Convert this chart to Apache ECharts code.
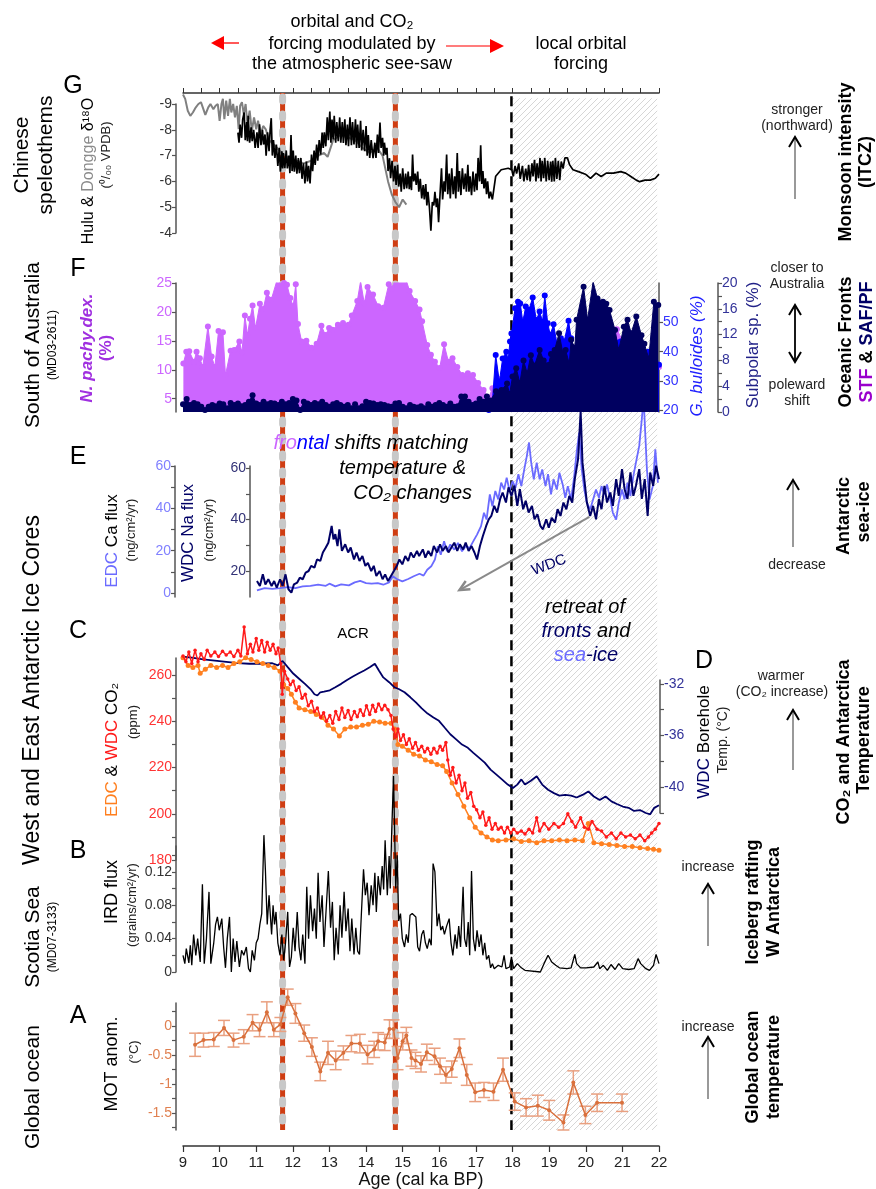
<!DOCTYPE html>
<html><head><meta charset="utf-8">
<script src="https://cdn.jsdelivr.net/npm/echarts@6/dist/echarts.min.js"></script>
<style>html,body{margin:0;padding:0;background:#fff}#c{width:876px;height:1189px}</style>
</head><body><div id="c"></div>
<script>
const FONT = '"Liberation Sans", Arial, Helvetica, sans-serif';
// ---------- x axis ----------
const X_LABELS = [9,10,11,12,13,14,15,16,17,18,19,20,21,22];
const TOP_TICKS = [9,9.5,10,10.5,11,11.5,12,12.5,13,13.5,14,14.5,15,15.5,16,16.5,17,17.5,18,18.5,19,19.5,20,20.5,21,21.5,22];
const EVENT_LINES = [11.72, 14.8];
const BOUNDARY = 17.97;
const HATCH = [17.97, 21.95];
// ---------- G: speleothems d18O ----------
const G_LABELS = [-9,-8,-7,-6,-5,-4];
const DONGGE = [[9.00,-9.37],[9.06,-9.20],[9.13,-8.74],[9.20,-8.54],[9.27,-8.67],[9.35,-8.87],[9.42,-9.00],[9.49,-9.07],[9.54,-8.87],[9.61,-8.58],[9.69,-8.87],[9.75,-9.00],[9.83,-8.80],[9.89,-8.93],[9.95,-9.00],[10.00,-8.35],[10.05,-9.00],[10.09,-9.20],[10.13,-8.41],[10.18,-9.13],[10.23,-8.54],[10.28,-9.20],[10.32,-8.67],[10.37,-9.00],[10.42,-8.48],[10.47,-8.93],[10.52,-8.02],[10.56,-8.93],[10.61,-9.07],[10.66,-8.61],[10.71,-9.00],[10.76,-8.21],[10.82,-8.74],[10.88,-7.95],[10.94,-8.48],[11.00,-8.02],[11.05,-8.35],[11.12,-7.82],[11.19,-8.15],[11.26,-8.02],[11.35,-7.60],[11.50,-7.40],[11.70,-7.10],[11.90,-6.90],[12.10,-6.80],[12.30,-6.70],[12.50,-6.80],[12.70,-7.00],[12.85,-7.10],[12.95,-6.95],[13.10,-7.60],[13.30,-7.80],[13.50,-7.70],[13.70,-7.60],[13.90,-7.30],[14.10,-7.10],[14.30,-7.30],[14.45,-7.00],[14.60,-6.00],[14.70,-5.50],[14.80,-5.20],[14.90,-5.00],[15.00,-5.30],[15.10,-5.10]];
const HULU = [
[10.50,-7.89],[10.53,-7.50],[10.56,-8.20],[10.60,-7.69],[10.63,-8.40],[10.67,-8.67],[10.70,-7.60],[10.74,-8.30],[10.76,-7.56],[10.78,-8.54],
[10.82,-7.50],[10.86,-8.10],[10.89,-7.56],[10.93,-8.00],[10.97,-7.30],[11.02,-7.90],[11.05,-7.30],[11.09,-8.21],[11.13,-7.40],[11.17,-8.00],
[11.20,-7.43],[11.24,-7.82],[11.27,-7.00],[11.31,-7.90],[11.35,-7.17],[11.38,-8.00],[11.41,-8.45],[11.44,-7.00],[11.47,-7.60],[11.51,-6.91],
[11.55,-7.43],[11.59,-6.60],[11.63,-7.30],[11.66,-6.38],[11.70,-7.17],[11.72,-6.50],[11.74,-7.10],[11.78,-6.51],[11.82,-7.20],[11.85,-6.50],
[11.89,-7.00],[11.92,-6.32],[11.95,-7.80],[11.98,-6.40],[12.01,-7.20],[12.04,-6.38],[12.08,-7.00],[12.11,-6.30],[12.15,-6.90],[12.18,-6.32],
[12.22,-6.91],[12.25,-6.10],[12.29,-6.70],[12.33,-5.92],[12.37,-6.77],[12.40,-6.00],[12.43,-6.60],[12.47,-5.92],[12.51,-7.04],[12.54,-6.40],
[12.58,-7.20],[12.61,-6.64],[12.65,-7.43],[12.68,-6.80],[12.72,-7.60],[12.76,-7.04],[12.80,-7.89],[12.83,-7.30],[12.86,-7.90],[12.90,-7.36],
[12.94,-8.48],[12.97,-7.60],[13.01,-8.71],[13.04,-7.50],[13.07,-8.40],[13.10,-7.63],[13.13,-8.54],[13.17,-7.50],[13.20,-8.30],[13.24,-7.56],
[13.28,-8.48],[13.31,-7.50],[13.35,-8.30],[13.38,-7.49],[13.42,-8.41],[13.45,-7.40],[13.49,-8.20],[13.52,-7.36],[13.56,-8.48],[13.60,-7.40],
[13.63,-8.30],[13.67,-7.43],[13.71,-8.41],[13.74,-7.30],[13.77,-8.20],[13.81,-7.30],[13.85,-8.35],[13.88,-7.20],[13.92,-8.00],[13.96,-7.17],
[14.00,-8.15],[14.03,-7.00],[14.06,-7.80],[14.10,-6.91],[14.14,-7.60],[14.19,-6.90],[14.24,-7.50],[14.27,-6.91],[14.31,-7.82],[14.34,-7.10],
[14.38,-8.28],[14.41,-7.30],[14.45,-7.69],[14.48,-7.00],[14.50,-7.50],[14.54,-7.04],[14.57,-7.30],[14.60,-6.40],[14.64,-6.90],[14.67,-6.12],
[14.71,-6.80],[14.75,-6.00],[14.79,-6.60],[14.82,-5.86],[14.86,-6.64],[14.89,-5.80],[14.93,-6.30],[14.96,-5.60],[15.00,-6.51],[15.04,-5.70],
[15.08,-6.30],[15.11,-5.73],[15.15,-6.38],[15.18,-5.70],[15.21,-6.20],[15.24,-5.66],[15.27,-7.04],[15.30,-6.00],[15.34,-6.30],[15.37,-5.86],
[15.41,-6.38],[15.44,-5.60],[15.48,-6.10],[15.52,-5.34],[15.56,-5.86],[15.59,-5.30],[15.63,-5.90],[15.66,-5.07],[15.69,-5.60],[15.73,-5.00],
[15.77,-4.09],[15.81,-5.20],[15.85,-5.07],[15.88,-5.60],[15.92,-5.00],[15.95,-5.34],[15.98,-4.42],[16.02,-5.50],[16.06,-6.51],[16.09,-5.30],
[16.13,-6.00],[16.16,-5.60],[16.20,-7.04],[16.23,-5.50],[16.27,-6.30],[16.30,-5.34],[16.34,-6.51],[16.38,-5.50],[16.42,-6.20],[16.45,-5.34],
[16.49,-7.10],[16.52,-5.60],[16.55,-6.40],[16.59,-5.47],[16.63,-6.51],[16.67,-5.70],[16.71,-6.30],[16.74,-5.60],[16.78,-6.64],[16.81,-5.60],
[16.84,-6.20],[16.88,-5.47],[16.92,-6.38],[16.96,-5.60],[17.00,-6.30],[17.03,-5.66],[17.06,-6.91],[17.10,-6.00],[17.13,-7.40],[17.16,-5.90],
[17.19,-6.40],[17.22,-5.73],[17.26,-6.12],[17.29,-5.50],[17.32,-6.00],[17.36,-5.34],[17.40,-5.60],[17.45,-5.30],[17.54,-6.20],[17.69,-6.45],
[17.88,-6.51],[17.98,-6.45],[18.02,-6.20],[18.07,-6.60],[18.11,-6.30],[18.17,-6.70],[18.21,-6.10],[18.27,-6.60],[18.31,-6.00],[18.36,-6.50],
[18.40,-6.05],[18.44,-6.64],[18.48,-6.00],[18.53,-6.70],[18.56,-6.19],[18.60,-6.84],[18.64,-6.00],[18.67,-6.70],[18.71,-6.12],[18.75,-6.91],
[18.78,-6.00],[18.81,-6.80],[18.85,-6.12],[18.88,-6.91],[18.92,-6.00],[18.96,-6.80],[19.00,-6.05],[19.04,-6.77],[19.07,-5.99],[19.10,-6.80],
[19.14,-6.00],[19.17,-6.91],[19.21,-6.10],[19.25,-6.80],[19.29,-6.05],[19.33,-6.77],[19.38,-6.50],[19.43,-6.91],[19.50,-6.91],[19.56,-6.64],
[19.65,-6.45],[19.80,-6.38],[19.99,-6.28],[20.13,-6.12],[20.28,-6.32],[20.42,-6.19],[20.56,-6.32],[20.76,-6.32],[20.95,-6.38],[21.09,-6.32],
[21.23,-6.19],[21.38,-6.05],[21.47,-5.99],[21.62,-6.05],[21.76,-6.05],[21.90,-6.12],[22.00,-6.28]];
// ---------- F: MD03-2611 foraminifera ----------
const PACHY_LABELS = [5,10,15,20,25];
const BULL_LABELS = [20,30,40,50];
const SUBP_LABELS = [0,4,8,12,16,20];
const SUBP_TICKS = [0,2,4,6,8,10,12,14,16,18,20];
const PACHY = [[9.01,11.1],[9.09,13.1],[9.17,13.2],[9.30,11.4],[9.37,13.1],[9.46,12.0],[9.54,10.5],[9.68,17.5],[9.78,12.3],[9.87,10.5],[9.97,16.7],[10.09,16.5],[10.16,9.1],[10.30,13.3],[10.40,13.4],[10.54,14.9],[10.61,13.0],[10.69,19.4],[10.76,16.0],[10.83,18.8],[10.90,21.1],[10.98,17.2],[11.10,21.4],[11.19,20.5],[11.29,23.3],[11.41,22.1],[11.55,25.1],[11.69,27.1],[11.76,25.0],[11.84,24.7],[11.93,22.4],[12.01,21.0],[12.08,24.8],[12.14,17.9],[12.24,14.9],[12.37,15.0],[12.51,13.8],[12.65,14.5],[12.78,17.6],[12.89,16.0],[12.99,17.2],[13.08,16.9],[13.23,17.8],[13.37,18.1],[13.52,17.8],[13.61,19.4],[13.76,21.9],[13.85,25.3],[13.95,21.5],[14.04,24.3],[14.19,23.0],[14.33,21.0],[14.47,20.7],[14.62,24.8],[14.71,24.1],[14.81,25.9],[14.93,27.7],[15.05,26.4],[15.19,23.6],[15.34,21.9],[15.46,20.4],[15.53,18.4],[15.67,14.3],[15.77,12.6],[15.88,11.4],[16.01,10.3],[16.13,14.4],[16.25,11.4],[16.36,12.0],[16.49,10.5],[16.63,9.1],[16.78,9.4],[16.92,9.1],[17.06,7.7],[17.21,6.5],[17.35,5.1],[17.45,6.8],[17.59,8.5],[17.69,7.4],[17.88,9.1],[18.07,7.5],[18.45,9.0],[18.84,8.0],[19.17,10.0],[19.60,9.0],[20.18,11.0],[20.56,13.0],[20.85,17.0],[21.23,12.0],[21.62,10.0],[22.00,10.5]];
const BULL = [[17.35,20.0],[17.45,22.9],[17.54,38.9],[17.64,29.7],[17.73,37.7],[17.83,40.0],[17.88,37.2],[17.93,43.5],[17.97,46.3],[18.07,54.9],[18.15,57.2],[18.21,56.6],[18.28,50.3],[18.36,55.5],[18.45,54.4],[18.55,58.6],[18.65,50.9],[18.74,53.8],[18.82,50.3],[18.88,59.3],[18.96,49.8],[19.03,45.8],[19.12,49.4],[19.22,42.3],[19.32,44.6],[19.41,43.5],[19.53,50.6],[19.60,44.6],[19.70,40.0],[19.80,41.2],[19.99,36.6],[20.18,43.5],[20.37,41.2],[20.56,38.9],[20.75,44.6],[20.95,43.5],[21.14,41.2],[21.33,43.5],[21.52,41.2],[21.71,40.0],[21.90,36.6],[22.00,35.5]];
const SUBP = [[9.0,1.2],[9.1,2.0],[9.2,1.1],[9.3,1.4],[9.4,1.2],[9.5,0.8],[9.6,0.3],[9.7,0.8],[9.8,1.1],[9.9,0.9],[10.0,1.3],[10.1,1.2],[10.2,0.6],[10.3,1.4],[10.4,1.1],[10.5,1.3],[10.6,0.9],[10.7,1.1],[10.8,1.6],[10.9,2.6],[11.0,1.3],[11.1,1.1],[11.2,1.6],[11.3,1.2],[11.4,1.4],[11.5,1.3],[11.6,1.1],[11.7,1.6],[11.8,1.2],[11.9,1.4],[12.0,2.0],[12.1,1.8],[12.2,0.3],[12.3,1.6],[12.4,1.3],[12.5,1.1],[12.6,1.4],[12.7,1.2],[12.8,1.6],[12.9,1.1],[13.0,0.8],[13.1,1.2],[13.2,1.4],[13.3,1.1],[13.4,0.8],[13.5,1.1],[13.6,0.6],[13.7,1.2],[13.8,0.6],[13.9,0.9],[14.0,1.6],[14.1,1.4],[14.2,1.3],[14.3,1.1],[14.4,1.2],[14.5,1.1],[14.6,0.9],[14.7,0.8],[14.8,1.3],[14.9,1.4],[15.0,0.8],[15.1,0.6],[15.2,1.1],[15.3,0.8],[15.4,0.7],[15.5,0.9],[15.6,0.6],[15.7,1.2],[15.8,0.8],[15.9,1.1],[16.0,1.4],[16.1,1.1],[16.2,0.8],[16.3,1.3],[16.4,0.8],[16.5,0.9],[16.6,2.4],[16.7,2.4],[16.8,1.6],[16.9,1.1],[17.0,1.3],[17.1,2.0],[17.2,1.6],[17.3,2.4],[17.4,1.8],[17.55,3.2],[17.7,3.4],[17.85,4.4],[17.92,2.8],[18.0,5.5],[18.1,6.8],[18.2,4.5],[18.3,8.0],[18.4,6.0],[18.5,8.8],[18.6,7.2],[18.74,9.6],[18.85,8.0],[18.98,7.3],[19.05,9.0],[19.15,9.6],[19.27,12.2],[19.38,9.0],[19.45,9.6],[19.55,7.5],[19.6,11.2],[19.7,10.0],[19.75,14.3],[19.94,19.4],[20.05,14.3],[20.2,20.2],[20.32,17.6],[20.47,17.1],[20.56,16.8],[20.65,15.8],[20.8,12.7],[20.9,9.6],[21.04,13.2],[21.14,14.3],[21.24,12.2],[21.38,14.8],[21.52,11.9],[21.6,10.6],[21.72,8.3],[21.86,17.1],[21.98,16.6]];
// ---------- E: ice core dust / sea salt ----------
const CA_LABELS = [0,20,40,60];
const CA_TICKS = [0,10,20,30,40,50,60];
const NA_LABELS = [20,40,60];
const NA_TICKS = [20,30,40,50,60];
const CA = [[11.02,1.2],[11.23,2.3],[11.44,1.9],[11.65,2.3],[11.86,2.8],[12.07,2.3],[12.27,3.1],[12.48,3.4],[12.69,3.9],[12.90,3.4],[13.00,4.4],[13.16,3.1],[13.32,4.1],[13.53,3.6],[13.69,5.0],[13.84,5.7],[14.00,4.7],[14.15,4.4],[14.32,4.7],[14.47,3.9],[14.63,5.0],[14.73,7.9],[14.84,6.6],[14.99,5.5],[15.15,6.6],[15.30,7.9],[15.46,9.1],[15.57,8.2],[15.67,11.0],[15.78,12.6],[15.88,15.8],[15.96,22.1],[16.04,18.1],[16.13,24.5],[16.21,19.7],[16.30,22.9],[16.41,20.5],[16.51,23.7],[16.62,19.7],[16.72,22.1],[16.83,21.3],[16.93,24.5],[17.03,27.6],[17.14,31.6],[17.22,37.9],[17.29,34.7],[17.38,46.6],[17.45,41.0],[17.53,48.2],[17.61,44.2],[17.69,52.1],[17.77,48.9],[17.84,54.5],[17.92,48.2],[18.00,52.9],[18.08,49.7],[18.16,56.1],[18.24,50.5],[18.32,58.4],[18.39,64.7],[18.45,71.1],[18.51,61.6],[18.58,53.7],[18.66,61.6],[18.74,53.7],[18.81,58.4],[18.90,50.5],[18.97,56.1],[19.05,46.6],[19.12,53.7],[19.21,48.9],[19.28,56.8],[19.37,51.3],[19.44,45.0],[19.51,50.5],[19.60,44.2],[19.68,54.5],[19.75,66.3],[19.82,75.8],[19.89,58.4],[19.96,48.9],[20.03,42.6],[20.12,39.5],[20.20,44.2],[20.28,48.9],[20.36,45.0],[20.43,50.5],[20.51,46.6],[20.58,51.3],[20.67,44.2],[20.74,37.9],[20.83,34.7],[20.90,42.6],[20.99,48.9],[21.06,44.2],[21.14,52.1],[21.22,45.8],[21.30,55.3],[21.37,61.6],[21.46,69.5],[21.53,82.0],[21.58,92.0],[21.67,58.4],[21.74,44.2],[21.83,50.5],[21.90,67.9],[21.97,52.1]];
const NA = [[11.02,16.1],[11.10,14.2],[11.18,18.7],[11.25,14.8],[11.33,16.8],[11.42,14.2],[11.49,16.1],[11.56,13.5],[11.65,16.8],[11.72,14.2],[11.80,18.7],[11.88,12.9],[11.96,11.6],[12.03,14.8],[12.12,15.5],[12.19,17.4],[12.27,16.8],[12.35,19.4],[12.43,20.0],[12.50,22.0],[12.59,21.3],[12.66,24.5],[12.75,23.9],[12.82,27.2],[12.90,29.1],[12.97,31.0],[13.06,37.5],[13.11,32.3],[13.16,34.3],[13.22,29.7],[13.27,36.2],[13.34,27.8],[13.43,30.4],[13.51,27.2],[13.58,29.1],[13.67,24.5],[13.74,27.2],[13.82,23.9],[13.90,25.8],[13.98,22.0],[14.05,23.2],[14.14,20.0],[14.21,22.0],[14.28,18.1],[14.37,20.0],[14.45,16.8],[14.52,18.7],[14.60,16.1],[14.68,18.1],[14.76,20.0],[14.84,22.0],[14.91,24.5],[14.99,22.6],[15.07,25.8],[15.15,23.9],[15.22,27.2],[15.30,25.2],[15.39,27.8],[15.45,25.8],[15.55,28.4],[15.62,25.2],[15.70,27.8],[15.78,25.8],[15.85,29.7],[15.94,27.2],[16.02,30.4],[16.09,27.8],[16.18,29.7],[16.25,27.2],[16.33,29.1],[16.41,31.0],[16.49,27.8],[16.56,30.4],[16.65,28.4],[16.72,31.0],[16.80,27.8],[16.88,29.7],[16.96,27.2],[17.03,24.5],[17.11,29.7],[17.19,33.6],[17.28,37.5],[17.35,40.1],[17.42,41.4],[17.50,45.3],[17.58,42.7],[17.66,47.9],[17.73,50.5],[17.82,46.6],[17.89,52.5],[17.97,49.2],[18.05,53.2],[18.13,45.3],[18.20,51.8],[18.29,44.0],[18.36,47.3],[18.44,42.7],[18.53,45.3],[18.60,40.1],[18.68,42.1],[18.76,37.5],[18.83,36.2],[18.92,40.1],[18.99,36.8],[19.07,40.7],[19.16,38.8],[19.23,44.0],[19.31,41.4],[19.39,46.6],[19.47,44.0],[19.55,49.2],[19.63,46.6],[19.70,55.7],[19.79,63.5],[19.86,82.0],[19.91,62.2],[19.96,55.7],[20.03,46.6],[20.12,41.4],[20.20,45.3],[20.28,40.1],[20.36,48.0],[20.43,44.0],[20.51,53.1],[20.58,46.6],[20.67,50.5],[20.74,45.3],[20.83,55.7],[20.90,49.2],[20.99,59.6],[21.06,51.8],[21.14,48.0],[21.22,58.3],[21.30,49.2],[21.37,53.1],[21.46,59.6],[21.53,48.0],[21.61,55.7],[21.69,41.4],[21.76,58.3],[21.84,53.1],[21.92,60.9],[22.00,55.7]];
// ---------- C / D: CO2 and borehole temperature ----------
const CO2_LABELS = [180,200,220,240,260];
const CO2_TICKS = [180,190,200,210,220,230,240,250,260];
const BORE_LABELS = [-32,-36,-40];
const BORE_TICKS = [-32,-34,-36,-38,-40,-42];
const WDC_CO2 = [[9.00,268.3],[9.08,265.8],[9.16,270.0],[9.24,265.0],[9.33,270.8],[9.41,265.8],[9.49,269.2],[9.58,266.7],[9.66,270.8],[9.76,268.3],[9.87,270.0],[9.97,268.0],[10.08,270.3],[10.18,268.7],[10.29,270.0],[10.39,268.0],[10.50,270.8],[10.58,268.3],[10.67,280.8],[10.76,269.2],[10.84,273.3],[10.91,270.0],[11.00,275.8],[11.07,270.8],[11.15,275.0],[11.23,270.0],[11.30,274.2],[11.38,270.8],[11.46,273.3],[11.54,269.2],[11.60,271.7],[11.67,265.0],[11.71,251.7],[11.77,261.7],[11.86,258.3],[11.93,255.8],[12.01,257.5],[12.09,253.3],[12.17,255.0],[12.25,250.0],[12.34,251.7],[12.42,246.7],[12.51,248.7],[12.59,244.2],[12.67,245.8],[12.76,241.7],[12.84,243.7],[12.92,240.0],[13.01,242.5],[13.09,239.2],[13.17,244.2],[13.26,240.8],[13.34,245.8],[13.42,241.7],[13.51,244.7],[13.59,240.8],[13.68,244.2],[13.76,242.0],[13.84,245.0],[13.93,242.5],[14.01,246.7],[14.10,243.0],[14.18,247.0],[14.26,244.2],[14.34,247.5],[14.43,245.0],[14.51,247.0],[14.60,245.0],[14.68,242.5],[14.74,236.7],[14.81,233.3],[14.87,236.7],[14.94,231.7],[15.02,234.2],[15.10,230.0],[15.18,232.5],[15.27,228.3],[15.35,230.8],[15.43,227.5],[15.52,229.2],[15.60,226.7],[15.68,228.3],[15.77,225.8],[15.85,228.3],[15.94,226.3],[16.02,229.2],[16.09,227.5],[16.18,230.8],[16.23,223.3],[16.30,216.7],[16.37,220.0],[16.46,213.3],[16.54,216.7],[16.62,210.0],[16.70,213.3],[16.77,206.7],[16.86,209.2],[16.94,203.3],[17.02,201.7],[17.11,198.3],[17.19,200.8],[17.27,195.0],[17.36,198.3],[17.44,193.3],[17.53,195.8],[17.61,193.3],[17.69,194.2],[17.78,191.7],[17.86,194.2],[17.95,191.7],[18.03,193.3],[18.13,191.7],[18.24,192.5],[18.34,191.3],[18.45,193.3],[18.55,191.7],[18.66,198.3],[18.74,192.5],[18.86,195.8],[18.99,193.3],[19.13,195.8],[19.26,194.2],[19.39,195.8],[19.51,200.0],[19.62,196.7],[19.72,194.2],[19.86,198.3],[19.96,194.2],[20.07,193.3],[20.17,196.7],[20.31,193.3],[20.43,192.5],[20.56,190.0],[20.70,191.7],[20.83,189.2],[20.96,191.7],[21.09,190.0],[21.22,190.8],[21.35,189.2],[21.48,190.8],[21.61,188.3],[21.71,190.0],[21.80,191.7],[21.90,193.3],[22.00,195.8]];
const EDC_CO2 = [[9.00,267.5],[9.14,264.2],[9.27,263.3],[9.41,264.2],[9.47,260.8],[9.61,262.5],[9.76,264.2],[9.92,263.3],[10.08,264.2],[10.23,263.3],[10.39,265.0],[10.55,265.8],[10.71,267.5],[10.86,266.7],[11.02,265.8],[11.18,265.0],[11.33,264.2],[11.49,263.3],[11.65,261.7],[11.75,255.8],[11.86,254.2],[11.96,251.7],[12.07,248.3],[12.17,245.8],[12.33,245.0],[12.49,244.2],[12.64,243.0],[12.80,241.7],[12.96,238.3],[13.11,236.7],[13.27,233.7],[13.42,236.7],[13.58,237.5],[13.74,237.5],[13.90,238.3],[14.06,238.7],[14.21,240.0],[14.37,239.7],[14.52,239.2],[14.68,239.2],[14.78,236.7],[14.87,230.0],[14.99,229.2],[15.15,227.5],[15.30,225.8],[15.46,225.0],[15.62,223.3],[15.78,222.5],[15.94,221.3],[16.09,220.8],[16.20,218.3],[16.35,213.3],[16.51,208.3],[16.67,203.3],[16.83,198.3],[16.98,194.2],[17.14,191.7],[17.30,190.0],[17.45,188.7],[17.61,188.3],[17.82,188.7],[18.03,189.2],[18.24,188.0],[18.45,188.3],[18.66,187.5],[18.86,188.3],[19.07,188.3],[19.28,188.7],[19.49,188.3],[19.70,188.7],[19.91,188.3],[20.07,195.8],[20.22,187.5],[20.43,187.0],[20.64,186.7],[20.85,186.3],[21.06,185.8],[21.27,185.8],[21.48,185.3],[21.69,185.0],[21.85,184.7],[22.00,184.2]];
const BORE_T = [[9.00,-29.90],[9.24,-29.97],[9.55,-30.10],[9.87,-30.20],[10.18,-30.30],[10.50,-30.40],[10.81,-30.44],[11.12,-30.44],[11.44,-30.40],[11.59,-30.57],[11.72,-30.23],[11.86,-30.70],[12.01,-31.20],[12.17,-31.60],[12.33,-32.00],[12.48,-32.40],[12.59,-32.80],[12.67,-32.90],[12.75,-32.65],[12.85,-32.60],[13.01,-32.50],[13.16,-32.26],[13.32,-32.00],[13.48,-31.70],[13.64,-31.43],[13.79,-31.20],[13.95,-30.96],[14.11,-30.70],[14.24,-30.44],[14.35,-30.96],[14.47,-31.50],[14.63,-31.87],[14.77,-32.26],[14.89,-32.40],[15.05,-32.65],[15.21,-33.04],[15.36,-33.43],[15.52,-33.90],[15.68,-34.30],[15.84,-34.60],[15.99,-34.86],[16.15,-35.40],[16.30,-35.90],[16.46,-36.30],[16.62,-36.70],[16.78,-36.95],[16.93,-37.34],[17.09,-37.73],[17.24,-38.10],[17.40,-38.64],[17.56,-39.03],[17.71,-39.40],[17.87,-39.80],[18.01,-40.07],[18.13,-39.80],[18.24,-39.40],[18.34,-39.80],[18.50,-39.50],[18.66,-39.16],[18.81,-39.80],[18.97,-40.20],[19.13,-40.46],[19.28,-40.65],[19.44,-40.60],[19.60,-40.65],[19.75,-40.80],[19.91,-40.60],[20.07,-40.33],[20.22,-40.72],[20.38,-41.00],[20.54,-40.72],[20.70,-41.10],[20.85,-41.30],[21.01,-41.50],[21.17,-41.60],[21.32,-41.84],[21.48,-41.77],[21.64,-42.00],[21.76,-42.10],[21.87,-41.60],[22.00,-41.40]];
// ---------- B: IRD flux ----------
const IRD_LABELS = [0,0.04,0.08,0.12];
const IRD_TICKS = [0,0.02,0.04,0.06,0.08,0.1,0.12,0.14];
const IRD = [[9.00,0.020],[9.05,0.010],[9.09,0.028],[9.16,0.011],[9.20,0.032],[9.24,0.008],[9.29,0.045],[9.35,0.020],[9.40,0.040],[9.47,0.012],[9.53,0.105],[9.58,0.010],[9.64,0.040],[9.71,0.096],[9.76,0.010],[9.84,0.035],[9.89,0.057],[9.94,0.066],[9.99,0.050],[10.06,0.064],[10.11,0.030],[10.16,0.005],[10.21,0.040],[10.27,0.066],[10.32,0.000],[10.37,0.040],[10.42,0.012],[10.47,0.037],[10.54,0.006],[10.60,0.026],[10.66,0.020],[10.73,0.030],[10.79,0.004],[10.84,0.000],[10.89,0.026],[10.95,0.014],[11.00,0.035],[11.05,0.040],[11.10,0.057],[11.15,0.070],[11.21,0.164],[11.25,0.123],[11.30,0.057],[11.35,0.092],[11.42,0.045],[11.46,0.080],[11.50,0.057],[11.54,0.072],[11.59,0.035],[11.65,0.020],[11.70,0.045],[11.75,0.014],[11.80,0.035],[11.86,0.072],[11.91,0.006],[11.96,0.018],[12.01,0.053],[12.06,0.025],[12.12,0.072],[12.17,0.030],[12.22,0.014],[12.27,0.045],[12.33,0.010],[12.38,0.102],[12.43,0.040],[12.48,0.092],[12.54,0.049],[12.59,0.076],[12.64,0.040],[12.69,0.119],[12.74,0.060],[12.80,0.092],[12.85,0.030],[12.90,0.068],[12.97,0.121],[13.03,0.053],[13.08,0.084],[13.13,0.014],[13.18,0.053],[13.24,0.021],[13.29,0.080],[13.34,0.041],[13.40,0.096],[13.45,0.049],[13.51,0.076],[13.56,0.025],[13.61,0.064],[13.67,0.021],[13.72,0.053],[13.77,0.025],[13.82,0.021],[13.87,0.068],[13.93,0.123],[13.98,0.092],[14.03,0.107],[14.08,0.068],[14.14,0.104],[14.19,0.080],[14.24,0.119],[14.28,0.072],[14.33,0.115],[14.39,0.092],[14.44,0.127],[14.48,0.099],[14.52,0.158],[14.58,0.092],[14.63,0.139],[14.66,0.100],[14.70,0.168],[14.75,0.235],[14.81,0.100],[14.85,0.140],[14.89,0.061],[14.94,0.070],[14.99,0.040],[15.05,0.030],[15.10,0.045],[15.15,0.035],[15.20,0.068],[15.26,0.070],[15.31,0.070],[15.36,0.066],[15.41,0.030],[15.46,0.025],[15.52,0.045],[15.57,0.050],[15.62,0.035],[15.67,0.028],[15.73,0.040],[15.78,0.032],[15.83,0.130],[15.88,0.120],[15.94,0.055],[15.99,0.070],[16.04,0.050],[16.09,0.055],[16.14,0.045],[16.20,0.055],[16.27,0.064],[16.32,0.035],[16.37,0.020],[16.43,0.045],[16.48,0.028],[16.53,0.055],[16.58,0.030],[16.65,0.102],[16.69,0.040],[16.74,0.030],[16.79,0.060],[16.83,0.020],[16.88,0.121],[16.93,0.040],[16.98,0.025],[17.03,0.050],[17.09,0.030],[17.14,0.045],[17.19,0.020],[17.24,0.035],[17.29,0.015],[17.35,0.020],[17.40,0.005],[17.45,0.010],[17.50,0.004],[17.61,0.008],[17.71,0.006],[17.77,0.020],[17.82,0.004],[17.92,0.006],[17.97,0.018],[18.03,0.004],[18.13,0.010],[18.24,0.005],[18.34,0.002],[18.76,0.000],[18.86,0.010],[18.97,0.020],[19.02,0.021],[19.07,0.012],[19.18,0.008],[19.28,0.005],[19.49,0.004],[19.60,0.005],[19.70,0.021],[19.75,0.010],[19.86,0.005],[20.01,0.005],[20.22,0.006],[20.33,0.012],[20.38,0.004],[20.48,0.008],[20.59,0.002],[20.69,0.009],[20.80,0.003],[20.90,0.010],[21.01,0.004],[21.17,0.003],[21.32,0.004],[21.43,0.016],[21.50,0.010],[21.64,0.004],[21.74,0.002],[21.85,0.008],[21.92,0.021],[22.00,0.010]];
// ---------- A: mean ocean temperature [age, anomaly, error] ----------
const MOT_LABELS = [0,-0.5,-1,-1.5];
const MOT_TICKS = [0.25,0,-0.25,-0.5,-0.75,-1,-1.25,-1.5,-1.75];
const MOT = [[9.33,-0.32,0.20],[9.56,-0.24,0.12],[9.84,-0.23,0.12],[10.12,-0.03,0.13],[10.38,-0.24,0.12],[10.66,-0.18,0.12],[10.90,0.06,0.14],[11.09,-0.06,0.12],[11.29,0.24,0.18],[11.48,-0.06,0.12],[11.66,0.03,0.12],[11.86,0.50,0.14],[12.07,0.22,0.17],[12.31,-0.12,0.14],[12.52,-0.36,0.16],[12.75,-0.78,0.16],[12.96,-0.46,0.20],[13.17,-0.59,0.16],[13.38,-0.46,0.12],[13.60,-0.30,0.14],[13.83,-0.30,0.16],[14.04,-0.49,0.16],[14.22,-0.40,0.14],[14.33,-0.26,0.15],[14.51,-0.28,0.14],[14.64,-0.05,0.16],[14.75,-0.05,0.16],[14.86,-0.55,0.20],[15.00,-0.26,0.15],[15.10,-0.16,0.14],[15.24,-0.55,0.14],[15.35,-0.59,0.14],[15.50,-0.65,0.14],[15.66,-0.45,0.14],[15.87,-0.52,0.14],[16.02,-0.69,0.14],[16.18,-0.84,0.14],[16.34,-0.74,0.14],[16.55,-0.38,0.16],[16.75,-0.84,0.18],[16.98,-1.14,0.16],[17.22,-1.10,0.13],[17.48,-1.13,0.15],[17.74,-0.75,0.20],[18.06,-1.30,0.15],[18.37,-1.40,0.15],[18.69,-1.37,0.18],[19.00,-1.45,0.17],[19.39,-1.66,0.13],[19.66,-0.97,0.20],[19.99,-1.53,0.15],[20.31,-1.32,0.15],[20.99,-1.32,0.15]];

// ================= chart =================
const GRID_L = 183, GRID_R = 876 - 659;
function grid(top, height) { return {left: GRID_L, right: GRID_R, top, height, containLabel: false, outerBoundsMode: 'none'}; }
function xAx(g, extra) {
  return Object.assign({type: 'value', gridIndex: g, min: 9, max: 22, show: false,
    axisLine: {onZero: false}, splitLine: {show: false}}, extra || {});
}
function yAx(g, min, max, labels, ticks, color, extra) {
  return Object.assign({type: 'value', gridIndex: g, min, max, position: 'left', offset: 7,
    axisLine: {show: true, onZero: false, lineStyle: {color: '#555', width: 1.5}},
    axisTick: {show: true, length: 4, customValues: ticks, lineStyle: {color: '#555', width: 1.2}},
    axisLabel: {show: true, customValues: labels, color, fontSize: 14, fontFamily: FONT, margin: 4},
    splitLine: {show: false}}, extra || {});
}
const option = {
  animation: false,
  backgroundColor: '#fff',
  grid: [grid(104, 129), grid(283, 129), grid(466, 131), grid(658, 202), grid(680, 133), grid(846, 126), grid(1003, 127)],
  xAxis: [
    xAx(0, {show: true, position: 'top', offset: 11,
      axisLine: {show: true, onZero: false, lineStyle: {color: '#333', width: 1.5}},
      axisTick: {show: true, length: 5, customValues: TOP_TICKS, lineStyle: {color: '#333', width: 1}},
      axisLabel: {show: false}}),
    xAx(1), xAx(2), xAx(3), xAx(4), xAx(5),
    xAx(6, {show: true, position: 'bottom', offset: 16,
      axisLine: {show: true, onZero: false, lineStyle: {color: '#333', width: 1.5}},
      axisTick: {show: true, length: 6, customValues: X_LABELS, lineStyle: {color: '#333', width: 1.2}},
      axisLabel: {show: true, customValues: X_LABELS, color: '#222', fontSize: 15, fontFamily: FONT, margin: 9},
      name: 'Age (cal ka BP)', nameLocation: 'middle', nameGap: 24,
      nameTextStyle: {fontSize: 18, color: '#111', fontFamily: FONT}})
  ],
  yAxis: [
    yAx(0, -9, -4, G_LABELS, G_LABELS, '#333', {inverse: true}),
    yAx(1, 2.7, 25, PACHY_LABELS, PACHY_LABELS, '#cc66ff'),
    yAx(1, 19.3, 63.6, BULL_LABELS, BULL_LABELS, '#3333ff', {position: 'right', offset: 0}),
    yAx(1, 0, 20, SUBP_LABELS, SUBP_TICKS, '#333399', {position: 'right', offset: 59}),
    yAx(2, -1.9, 60, CA_LABELS, CA_TICKS, '#8080ff', {offset: 8}),
    yAx(2, 9.9, 60.8, NA_LABELS, NA_TICKS, '#333377', {offset: -67}),
    yAx(3, 180, 267.4, CO2_LABELS, CO2_TICKS, '#ff3333'),
    yAx(4, -42, -31.7, BORE_LABELS, BORE_TICKS, '#333399', {position: 'right', offset: 1}),
    yAx(5, 0, 0.151, IRD_LABELS, IRD_TICKS, '#333'),
    yAx(6, -1.79, 0.40, MOT_LABELS, MOT_TICKS, '#e08050')
  ],
  series: [
    {type: 'line', name: 'Dongge', xAxisIndex: 0, yAxisIndex: 0, data: DONGGE, symbol: 'none', clip: false, z: 2,
      lineStyle: {color: '#808080', width: 2}},
    {type: 'line', name: 'Hulu', xAxisIndex: 0, yAxisIndex: 0, data: HULU, symbol: 'none', clip: false, z: 3,
      lineStyle: {color: '#000', width: 1.7}},
    {type: 'line', name: 'N. pachy', xAxisIndex: 1, yAxisIndex: 1, data: PACHY, symbol: 'circle', symbolSize: 6, z: 2,
      itemStyle: {color: '#cc66ff'}, lineStyle: {color: '#cc66ff', width: 1}, areaStyle: {color: '#cc66ff', opacity: 1, origin: 'start'}},
    {type: 'line', name: 'G. bulloides', xAxisIndex: 1, yAxisIndex: 2, data: BULL, symbol: 'circle', symbolSize: 6, z: 3,
      itemStyle: {color: '#0000ff'}, lineStyle: {color: '#0000ff', width: 1}, areaStyle: {color: '#0000ff', opacity: 1, origin: 'start'}},
    {type: 'line', name: 'Subpolar', xAxisIndex: 1, yAxisIndex: 3, data: SUBP, symbol: 'circle', symbolSize: 6, z: 4,
      itemStyle: {color: '#000060'}, lineStyle: {color: '#000060', width: 1}, areaStyle: {color: '#000060', opacity: 1, origin: 'start'}},
    {type: 'line', name: 'EDC Ca', xAxisIndex: 2, yAxisIndex: 4, data: CA, symbol: 'none', clip: false, z: 2,
      lineStyle: {color: '#6b6bff', width: 1.8}},
    {type: 'line', name: 'WDC Na', xAxisIndex: 2, yAxisIndex: 5, data: NA, symbol: 'none', clip: false, z: 3,
      lineStyle: {color: '#000066', width: 2}},
    {type: 'line', name: 'WDC T', xAxisIndex: 4, yAxisIndex: 7, data: BORE_T, symbol: 'none', clip: false, z: 2,
      lineStyle: {color: '#000066', width: 1.8}},
    {type: 'line', name: 'EDC CO2', xAxisIndex: 3, yAxisIndex: 6, data: EDC_CO2, symbol: 'circle', symbolSize: 5, clip: false, z: 3,
      itemStyle: {color: '#ff8020'}, lineStyle: {color: '#ff8020', width: 1.5}},
    {type: 'line', name: 'WDC CO2', xAxisIndex: 3, yAxisIndex: 6, data: WDC_CO2, symbol: 'circle', symbolSize: 3.5, clip: false, z: 4,
      itemStyle: {color: '#ff1a1a'}, lineStyle: {color: '#ff1a1a', width: 1.5}},
    {type: 'line', name: 'IRD', xAxisIndex: 5, yAxisIndex: 8, data: IRD, symbol: 'none', clip: false, z: 3,
      lineStyle: {color: '#000', width: 1.3}},
    {type: 'custom', name: 'MOT err', xAxisIndex: 6, yAxisIndex: 9, clip: false, z: 2,
      data: MOT.map(d => [d[0], d[1] - d[2], d[1] + d[2]]), encode: {x: 0, y: [1, 2]},
      renderItem: function (params, api) {
        const x = api.value(0);
        const lo = api.coord([x, api.value(1)]), hi = api.coord([x, api.value(2)]);
        const w = 6, st = {stroke: '#e9a080', lineWidth: 1.5};
        return {type: 'group', children: [
          {type: 'line', shape: {x1: lo[0], y1: lo[1], x2: hi[0], y2: hi[1]}, style: st},
          {type: 'line', shape: {x1: lo[0] - w, y1: lo[1], x2: lo[0] + w, y2: lo[1]}, style: st},
          {type: 'line', shape: {x1: hi[0] - w, y1: hi[1], x2: hi[0] + w, y2: hi[1]}, style: st}]};
      }},
    {type: 'line', name: 'MOT', xAxisIndex: 6, yAxisIndex: 9, data: MOT.map(d => [d[0], d[1]]), symbol: 'circle', symbolSize: 4, clip: false, z: 3,
      itemStyle: {color: '#d9703c'}, lineStyle: {color: '#d9703c', width: 1.5}}
  ]
};
const chart = echarts.init(document.getElementById('c'), null, {renderer: 'canvas'});
chart.setOption(option);

// ---------- overlay graphics positioned through the axes ----------
const px = v => chart.convertToPixel({xAxisIndex: 0}, v);
const py = (axis, v) => chart.convertToPixel({yAxisIndex: axis}, v);
const yTop = py(0, -9.43), yBot = py(9, -1.79), yHatchTop = py(0, -9.22);

const pc = document.createElement('canvas'); pc.width = 6; pc.height = 6;
const pg = pc.getContext('2d'); pg.strokeStyle = '#d6d6d6'; pg.lineWidth = 1;
pg.beginPath(); pg.moveTo(0, 6); pg.lineTo(6, 0); pg.moveTo(-1, 1); pg.lineTo(1, -1); pg.moveTo(5, 7); pg.lineTo(7, 5); pg.stroke();

function RS(fill, size, extra) { return Object.assign({fill, fontSize: size, fontFamily: FONT, fontStyle: 'normal', fontWeight: 'normal'}, extra || {}); }
function T(x, y, text, o) {
  o = o || {};
  const st = {text, x: 0, y: 0, fill: o.fill || '#000', fontSize: o.size || 14, fontFamily: FONT,
    fontWeight: o.weight || 'normal', fontStyle: o.italic ? 'italic' : 'normal',
    align: o.align || 'center', textAlign: o.align || 'center', verticalAlign: 'middle', textVerticalAlign: 'middle'};
  if (o.rich) st.rich = o.rich;
  return {type: 'text', x, y, rotation: o.rot || 0, z: 20, silent: true, style: st};
}
const V = Math.PI / 2;
function chevron(x, y, dir, col) { // dir: -1 up, 1 down
  return {type: 'polyline', z: 20, silent: true, shape: {points: [[x - 6, y - dir * 10], [x, y], [x + 6, y - dir * 10]]},
    style: {stroke: col || '#000', lineWidth: 2, fill: null}};
}
function vline(x, y1, y2, col, w) {
  return {type: 'line', z: 20, silent: true, shape: {x1: x, y1, x2: x, y2}, style: {stroke: col || '#777', lineWidth: w || 1.5}};
}
const els = [];
// hatch
els.push({type: 'rect', z: 0, silent: true, shape: {x: px(HATCH[0]), y: yHatchTop, width: px(HATCH[1]) - px(HATCH[0]), height: yBot - yHatchTop},
  style: {fill: {image: pc, repeat: 'repeat'}}});
// event lines
EVENT_LINES.forEach(a => {
  const x = px(a);
  els.push({type: 'line', z: 1, silent: true, shape: {x1: x, y1: yTop, x2: x, y2: yBot}, style: {stroke: '#cf3d12', lineWidth: 5}});
  els.push({type: 'line', z: 1, silent: true, shape: {x1: x, y1: yTop + 4, x2: x, y2: yBot}, style: {stroke: '#c8c8c8', lineWidth: 7, lineDash: [4, 13], lineCap: 'round'}});
});
els.push({type: 'line', z: 1, silent: true, shape: {x1: px(BOUNDARY), y1: yHatchTop - 2, x2: px(BOUNDARY), y2: yBot}, style: {stroke: '#000', lineWidth: 2.5, lineDash: [10, 6]}});

// top header
els.push(T(352, 22, 'orbital and CO₂', {size: 18}));
els.push(T(352, 44, 'forcing modulated by', {size: 18}));
els.push(T(352, 64, 'the atmospheric see-saw', {size: 18}));
els.push(T(581, 44, 'local orbital', {size: 18}));
els.push(T(581, 64, 'forcing', {size: 18}));
els.push({type: 'line', z: 20, silent: true, shape: {x1: 223, y1: 43, x2: 239, y2: 43}, style: {stroke: '#ff2020', lineWidth: 1.5}});
els.push({type: 'polygon', z: 20, silent: true, shape: {points: [[211, 43], [224, 36], [224, 50]]}, style: {fill: '#ff0000'}});
els.push({type: 'line', z: 20, silent: true, shape: {x1: 446, y1: 46, x2: 491, y2: 46}, style: {stroke: '#ff5050', lineWidth: 1.5}});
els.push({type: 'polygon', z: 20, silent: true, shape: {points: [[504, 46], [490, 39], [490, 53]]}, style: {fill: '#ff0000'}});

// region labels (left)
els.push(T(22, 155, 'Chinese', {size: 21, rot: V}));
els.push(T(46, 155, 'speleothems', {size: 21, rot: V}));
els.push(T(33, 345, 'South of Australia', {size: 21, rot: V}));
els.push(T(53, 345, '(MD03-2611)', {size: 12, rot: V}));
els.push(T(33, 690, 'West and East Antarctic Ice Cores', {size: 23, rot: V}));
els.push(T(33, 937, 'Scotia Sea', {size: 21, rot: V}));
els.push(T(53, 937, '(MD07-3133)', {size: 12, rot: V}));
els.push(T(33, 1087, 'Global ocean', {size: 21, rot: V}));
// panel letters
[['G', 73, 86], ['F', 78, 269], ['E', 78, 457], ['C', 78, 631], ['B', 78, 851], ['A', 78, 1016], ['D', 704, 661]].forEach(p =>
  els.push(T(p[1], p[2], p[0], {size: 25})));
// axis titles
els.push(T(89, 171, '{k|Hulu & }{g|Dongge}{k| δ¹⁸O}', {rot: V, rich: {k: RS('#000', 16), g: RS('#8a8a8a', 16)}}));
els.push(T(106, 155, '(⁰/₀₀ VPDB)', {size: 13, rot: V, fill: '#222'}));
els.push(T(87, 348, 'N. pachy.dex.', {size: 17, rot: V, italic: true, fill: '#a030e0', weight: 'bold'}));
els.push(T(106, 348, '(%)', {size: 17, rot: V, fill: '#a030e0', weight: 'bold'}));
els.push(T(112, 541, '{b|EDC}{k| Ca flux}', {rot: V, rich: {b: RS('#6b6bff', 17), k: RS('#000', 17)}}));
els.push(T(131, 530, '(ng/cm²/yr)', {size: 13, rot: V, fill: '#222'}));
els.push(T(188, 533, 'WDC Na flux', {size: 17, rot: V, fill: '#000066'}));
els.push(T(209, 530, '(ng/cm²/yr)', {size: 13, rot: V, fill: '#222'}));
els.push(T(112, 750, '{o|EDC}{k| & }{r|WDC}{k| CO₂}', {rot: V, rich: {o: RS('#ff7f1e', 17), k: RS('#000', 17), r: RS('#ff1a1a', 17)}}));
els.push(T(133, 722, '(ppm)', {size: 13, rot: V, fill: '#222'}));
els.push(T(704, 742, '{n|WDC}{k| Borehole}', {rot: V, rich: {n: RS('#000066', 17), k: RS('#000', 17)}}));
els.push(T(723, 740, 'Temp. (°C)', {size: 14, rot: V, fill: '#222'}));
els.push(T(112, 892, 'IRD flux', {size: 18, rot: V}));
els.push(T(132, 905, '(grains/cm²/yr)', {size: 13, rot: V, fill: '#222'}));
els.push(T(112, 1064, 'MOT anom.', {size: 18, rot: V}));
els.push(T(134, 1052, '(°C)', {size: 13, rot: V, fill: '#222'}));
els.push(T(697, 356, 'G. bulloides (%)', {size: 17, rot: V, italic: true, fill: '#1f1fff'}));
els.push(T(753, 345, 'Subpolar sp. (%)', {size: 17, rot: V, fill: '#222288'}));

// in-plot annotations
els.push(T(468, 443, '{p|fro}{b|ntal}{k| shifts matching}', {align: 'right',
  rich: {p: RS('#cc66ff', 20, {fontStyle: 'italic'}), b: RS('#0000ff', 20, {fontStyle: 'italic'}), k: RS('#000', 20, {fontStyle: 'italic'})}}));
els.push(T(466, 468, 'temperature &', {size: 20, italic: true, align: 'right'}));
els.push(T(472, 493, 'CO₂ changes', {size: 20, italic: true, align: 'right'}));
els.push(T(353, 634, 'ACR', {size: 15}));
els.push(T(585, 607, 'retreat of', {size: 20, italic: true}));
els.push(T(586, 631, '{n|fronts}{k| and}', {rich: {n: RS('#000066', 20, {fontStyle: 'italic'}), k: RS('#000', 20, {fontStyle: 'italic'})}}));
els.push(T(586, 655, '{l|sea}{n|-ice}', {rich: {l: RS('#6b6bff', 20, {fontStyle: 'italic'}), n: RS('#000066', 20, {fontStyle: 'italic'})}}));
els.push(T(549, 565, 'WDC', {size: 15, fill: '#000066', rot: 0.36}));
{
  const x1 = px(20.1), y1 = py(5, 41), x2 = px(16.55), y2 = py(5, 12.6);
  const ang = Math.atan2(y2 - y1, x2 - x1), hl = 11, sp = 0.45;
  els.push({type: 'line', z: 20, silent: true, shape: {x1, y1, x2, y2}, style: {stroke: '#8a8a8a', lineWidth: 2}});
  els.push({type: 'polyline', z: 20, silent: true, shape: {points: [
    [x2 - hl * Math.cos(ang - sp), y2 - hl * Math.sin(ang - sp)], [x2, y2], [x2 - hl * Math.cos(ang + sp), y2 - hl * Math.sin(ang + sp)]]},
    style: {stroke: '#8a8a8a', lineWidth: 2.5, fill: null}});
}

// right-side interpretation
els.push(T(797, 110, 'stronger', {size: 14, fill: '#222'}));
els.push(T(797, 126, '(northward)', {size: 14, fill: '#222'}));
els.push(vline(795, 199, 137)); els.push(chevron(795, 137, -1));
els.push(T(846, 162, 'Monsoon intensity', {size: 18, weight: 'bold', rot: V}));
els.push(T(866, 162, '(ITCZ)', {size: 18, weight: 'bold', rot: V}));
els.push(T(797, 268, 'closer to', {size: 14, fill: '#222'}));
els.push(T(797, 284, 'Australia', {size: 14, fill: '#222'}));
els.push(vline(795, 305, 362, '#000', 1.8)); els.push(chevron(795, 305, -1)); els.push(chevron(795, 362, 1));
els.push(T(797, 385, 'poleward', {size: 14, fill: '#222'}));
els.push(T(797, 401, 'shift', {size: 14, fill: '#222'}));
els.push(T(846, 342, 'Oceanic Fronts', {size: 18, weight: 'bold', rot: V}));
els.push(T(867, 342, '{p|STF}{k| & }{n|SAF/PF}', {rot: V, rich: {p: RS('#9900cc', 18, {fontWeight: 'bold'}), k: RS('#000', 18, {fontWeight: 'bold'}), n: RS('#000066', 18, {fontWeight: 'bold'})}}));
els.push(vline(793, 547, 480)); els.push(chevron(793, 480, -1));
els.push(T(797, 565, 'decrease', {size: 14, fill: '#222'}));
els.push(T(844, 516, 'Antarctic', {size: 18, weight: 'bold', rot: V}));
els.push(T(864, 512, 'sea-ice', {size: 18, weight: 'bold', rot: V}));
els.push(T(781, 676, 'warmer', {size: 14, fill: '#222'}));
els.push(T(782, 692, '(CO₂ increase)', {size: 14, fill: '#222'}));
els.push(vline(793, 770, 710)); els.push(chevron(793, 710, -1));
els.push(T(844, 742, 'CO₂ and Antarctica', {size: 18, weight: 'bold', rot: V}));
els.push(T(864, 740, 'Temperature', {size: 18, weight: 'bold', rot: V}));
els.push(T(708, 867, 'increase', {size: 14, fill: '#222'}));
els.push(vline(708, 946, 884)); els.push(chevron(708, 884, -1));
els.push(T(753, 902, 'Iceberg rafting', {size: 18, weight: 'bold', rot: V}));
els.push(T(774, 902, 'W Antarctica', {size: 18, weight: 'bold', rot: V}));
els.push(T(708, 1027, 'increase', {size: 14, fill: '#222'}));
els.push(vline(708, 1099, 1037)); els.push(chevron(708, 1037, -1));
els.push(T(753, 1067, 'Global ocean', {size: 18, weight: 'bold', rot: V}));
els.push(T(774, 1067, 'temperature', {size: 18, weight: 'bold', rot: V}));

chart.setOption({graphic: {elements: els}});
</script></body></html>
